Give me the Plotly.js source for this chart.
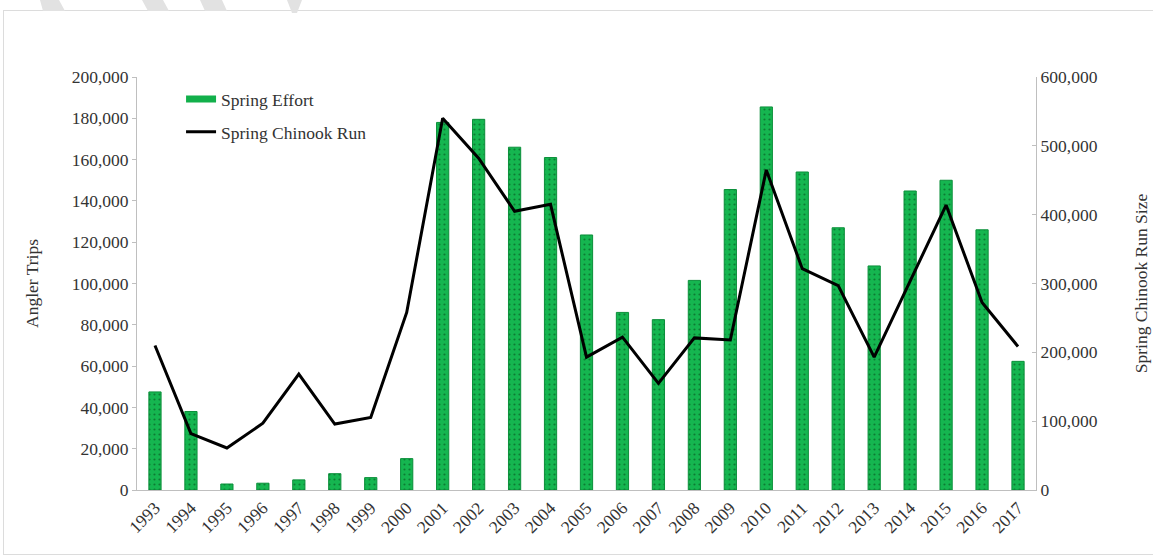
<!DOCTYPE html>
<html>
<head>
<meta charset="utf-8">
<script src="https://cdn.plot.ly/plotly-3.0.1.min.js"></script>
<style>
  html, body { margin: 0; padding: 0; background: #fff; }
  #wrap { position: relative; width: 1153px; height: 558px; overflow: hidden; }
  #chart { position: absolute; left: 0; top: 0; width: 1153px; height: 558px; }
  #frame { position: absolute; left: 3px; top: 10px; width: 1160px; height: 545px; border: 1px solid #dcdcdc; box-sizing: border-box; pointer-events: none; }
  #deco { position: absolute; left: 0; top: 0; pointer-events: none; }
</style>
</head>
<body>
<div id="wrap">
  <div id="chart"></div>
  <div id="frame"></div>
  <svg id="deco" width="1153" height="20">
    <polygon points="40,0 59,0 65,11 43,11" fill="#e2e2e2"/>
    <polygon points="142,0 163,0 169,11 148,11" fill="#e2e2e2"/>
    <polygon points="200,0 222,0 227,11 205,11" fill="#e2e2e2"/>
    <polygon points="287,0 302,0 297,13 292,13" fill="#e2e2e2"/>
  </svg>
</div>
<script>
const years = ['1993','1994','1995','1996','1997','1998','1999','2000','2001','2002','2003','2004','2005','2006','2007','2008','2009','2010','2011','2012','2013','2014','2015','2016','2017'];
const springEffort = [47500, 38000, 2900, 3300, 4900, 7900, 6000, 15200, 178000, 179500, 166000, 161000, 123500, 86000, 82500, 101500, 145500, 185500, 154000, 127000, 108500, 144800, 150000, 126000, 62300];
const chinookRun = [210000, 82000, 61000, 97000, 168500, 95800, 105500, 258000, 540000, 482000, 405000, 415000, 193000, 222000, 155000, 221000, 218000, 465000, 321500, 297000, 193000, 304000, 414000, 272500, 208500];
const leftTicks = [0, 20000, 40000, 60000, 80000, 100000, 120000, 140000, 160000, 180000, 200000];
const rightTicks = [0, 100000, 200000, 300000, 400000, 500000, 600000];

const fmt = v => v.toLocaleString('en-US');
const serif = "'Liberation Serif', 'Times New Roman', serif";
const txt = '#333333';
const green = '#12b04b';

const traces = [
  {
    type: 'bar', name: 'Spring Effort', x: years, y: springEffort, yaxis: 'y',
    width: 0.34, showlegend: false,
    marker: {
      color: green,
      line: { color: '#0b8f3a', width: 1 },
      pattern: { shape: '.', fgcolor: '#0d7a33', bgcolor: '#15b650', size: 5, solidity: 0.15 }
    }
  },
  {
    // legend-only swatch for the bar series (wide green rectangle as in the original)
    type: 'scatter', mode: 'lines', name: 'Spring Effort', x: [years[0]], y: [null], yaxis: 'y',
    legendgroup: 'a', line: { color: green, width: 7 }, hoverinfo: 'skip'
  },
  {
    type: 'scatter', mode: 'lines', name: 'Spring Chinook Run', x: years, y: chinookRun, yaxis: 'y2',
    legendgroup: 'b', line: { color: '#000000', width: 3 }
  }
];

const layout = {
  width: 1153, height: 558,
  margin: { l: 137, r: 117, t: 77, b: 68 },
  paper_bgcolor: 'rgba(0,0,0,0)', plot_bgcolor: 'rgba(0,0,0,0)',
  font: { family: serif, size: 17.5, color: txt },
  showlegend: true,
  legend: {
    x: 0.049, y: 0.99, xanchor: 'left', yanchor: 'top',
    bgcolor: 'rgba(0,0,0,0)', font: { family: serif, size: 17.5, color: txt },
    traceorder: 'grouped', tracegroupgap: 7, itemwidth: 30
  },
  xaxis: {
    type: 'category', range: [-0.5, 24.5],
    showline: true, linecolor: '#bfbfbf', linewidth: 1,
    ticks: '', tickangle: -45, showgrid: false, zeroline: false,
    tickfont: { family: serif, size: 17.5, color: txt }
  },
  yaxis: {
    range: [0, 200000], tickvals: leftTicks, ticktext: leftTicks.map(fmt),
    showline: true, linecolor: '#bfbfbf', linewidth: 1,
    ticks: 'outside', ticklen: 4, tickcolor: '#bfbfbf',
    showgrid: false, zeroline: false,
    tickfont: { family: serif, size: 17.5, color: txt },
    title: { text: 'Angler Trips', standoff: 28, font: { family: serif, size: 17.5, color: txt } }
  },
  yaxis2: {
    overlaying: 'y', side: 'right',
    range: [0, 600000], tickvals: rightTicks, ticktext: rightTicks.map(fmt),
    showline: true, linecolor: '#bfbfbf', linewidth: 1,
    ticks: 'inside', ticklen: 4, tickcolor: '#bfbfbf',
    showgrid: false, zeroline: false,
    tickfont: { family: serif, size: 17.5, color: txt },
    title: { text: 'Spring Chinook Run Size', standoff: 38, font: { family: serif, size: 17.5, color: txt } }
  }
};

Plotly.newPlot('chart', traces, layout, { staticPlot: true, displayModeBar: false });
</script>
</body>
</html>
